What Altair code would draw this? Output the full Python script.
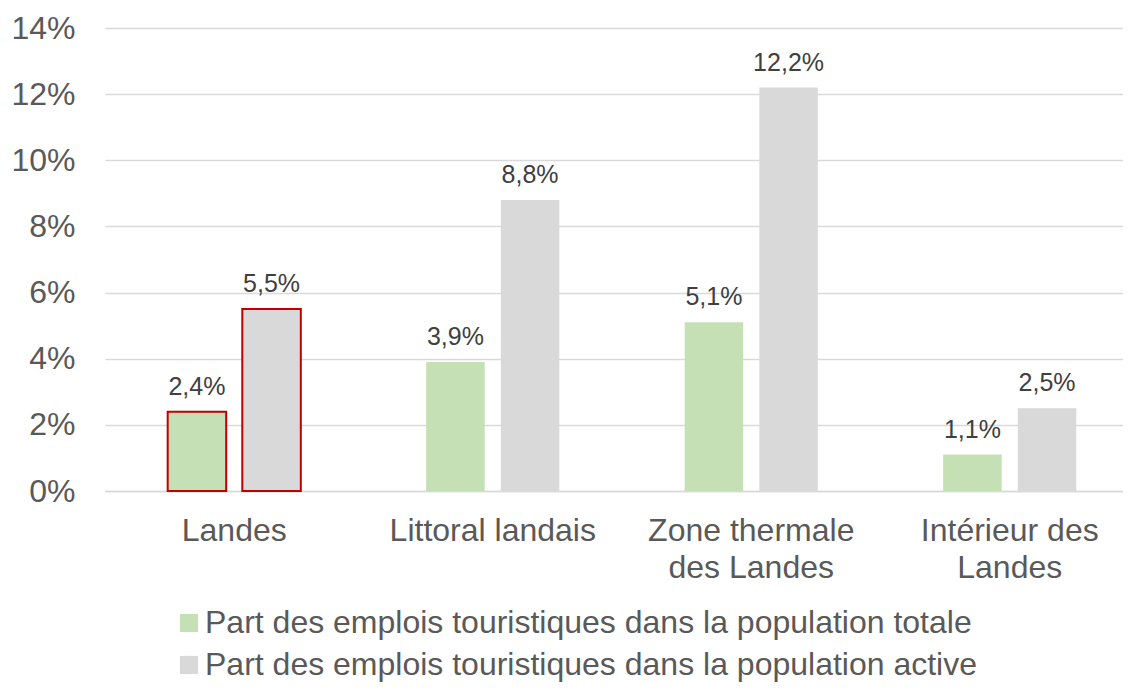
import altair as alt
import pandas as pd

categories = ["Landes", "Littoral landais", "Zone thermale\ndes Landes", "Intérieur des\nLandes"]
series = ["Part des emplois touristiques dans la population totale",
          "Part des emplois touristiques dans la population active"]
totale = [2.4, 3.9, 5.1, 1.1]
active = [5.5, 8.8, 12.2, 2.5]
colors = ["#C5E0B4", "#D9D9D9"]

rows = []
for i, c in enumerate(categories):
    for s, vals in zip(series, [totale, active]):
        v = vals[i]
        rows.append({"cat": c, "series": s, "value": v,
                     "label": f"{v:.1f}%".replace(".", ","),
                     "hl": c == "Landes"})
df = pd.DataFrame(rows)

font = "Liberation Sans"

x = alt.X("cat:N", sort=categories, title=None,
          scale=alt.Scale(paddingInner=0, paddingOuter=0, range=[0, 1034]),
          axis=alt.Axis(labelExpr="split(datum.label, '\\n')", labelAngle=0,
                        labelFontSize=32, labelColor="#595959", labelFont=font,
                        labelLineHeight=37, labelPadding=24, ticks=False, labelLimit=400,
                        domainColor="#D9D9D9", domainWidth=1.5, labelBaseline="top"))
xo = alt.XOffset("series:N", sort=series,
                 scale=alt.Scale(paddingInner=0.216, paddingOuter=0.84))
y = alt.Y("value:Q", title=None,
          scale=alt.Scale(domain=[0, 14]),
          axis=alt.Axis(values=[0, 2, 4, 6, 8, 10, 12, 14], labelExpr="datum.value + '%'",
                        labelFontSize=32, labelColor="#595959", labelFont=font,
                        ticks=False, domain=False, labelPadding=30,
                        gridColor="#D9D9D9", gridWidth=1.5))

bars = alt.Chart(df).mark_bar(strokeWidth=2).encode(
    x=x, xOffset=xo, y=y,
    color=alt.Color("series:N", sort=series,
                    scale=alt.Scale(domain=series, range=colors),
                    legend=alt.Legend(title=None, orient="none", legendX=68, legendY=579,
                                      symbolType="square", symbolSize=330,
                                      symbolStrokeWidth=0, labelFontSize=32,
                                      labelFont=font, labelColor="#595959",
                                      rowPadding=10, labelLimit=1000, labelOffset=0,
                                      direction="vertical")),
    stroke=alt.condition("datum.hl", alt.value("#C00000"), alt.value(None)),
)

texts = alt.Chart(df).mark_text(baseline="bottom", dy=-12, fontSize=25, font=font,
                                color="#404040").encode(
    x=x, xOffset=xo, y=y, text="label:N")

chart = alt.layer(bars, texts).properties(
    width=1018, height=463,
    autosize=alt.AutoSizeParams(type="none"),
    padding={"left": 97, "top": 20, "right": 0, "bottom": 192},
).configure_view(stroke=None)

chart.save("out.html", embed_options={"renderer": "svg", "actions": False})
